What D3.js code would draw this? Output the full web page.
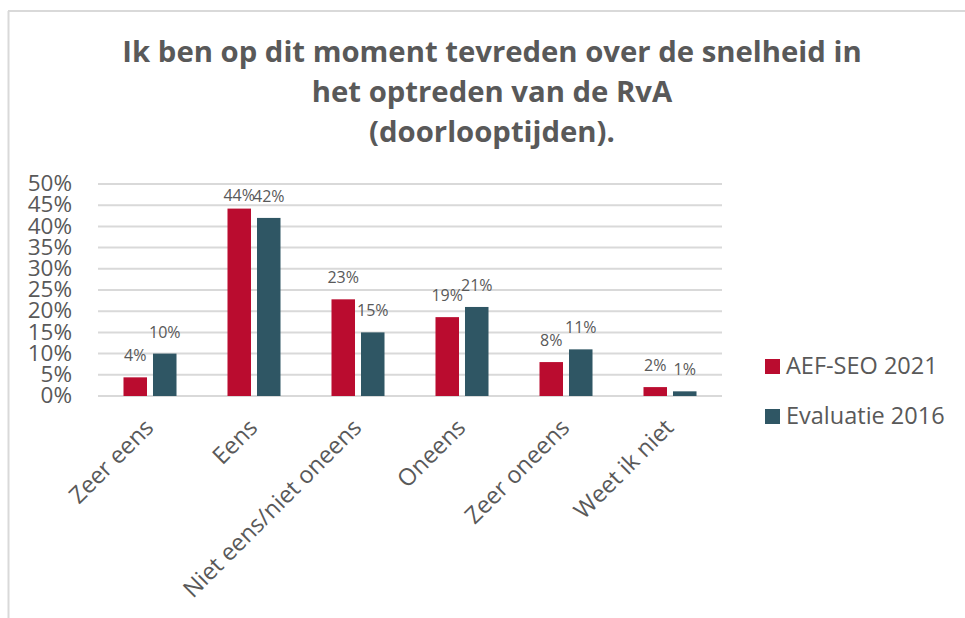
<!DOCTYPE html>
<html>
<head>
<meta charset="utf-8">
<script src="https://cdn.jsdelivr.net/npm/d3@7"></script>
<style>
  body { margin: 0; background: #fff; }
  svg { display: block; font-family: "Open Sans", "Noto Sans", sans-serif; }
</style>
</head>
<body>
<svg id="chart" width="965" height="618"></svg>
<script>
// data (percentages)
const categories = ["Zeer eens", "Eens", "Niet eens/niet oneens", "Oneens", "Zeer oneens", "Weet ik niet"];
const seriesNames = ["AEF-SEO 2021", "Evaluatie 2016"];
const aef2021 = [4.4, 44.2, 22.8, 18.6, 8.0, 2.1];
const eval2016 = [10.0, 42.0, 15.0, 21.0, 11.0, 1.1];
const yTicks = [0, 5, 10, 15, 20, 25, 30, 35, 40, 45, 50];
const titleLines = ["Ik ben op dit moment tevreden over de snelheid in", "het optreden van de RvA", "(doorlooptijden)."];

const colors = { "AEF-SEO 2021": "#ba0c2f", "Evaluatie 2016": "#2f5664" };
const textColor = "#595959";
const gridColor = "#d9d9d9";

const svg = d3.select("#chart");

// chart frame (only top + left edges visible)
svg.append("line").attr("x1", 8).attr("x2", 965).attr("y1", 11).attr("y2", 11)
    .attr("stroke", gridColor).attr("stroke-width", 2);
svg.append("line").attr("x1", 8.5).attr("x2", 8.5).attr("y1", 11).attr("y2", 618)
    .attr("stroke", gridColor).attr("stroke-width", 2);

// title
svg.append("g").selectAll("text")
    .data(titleLines)
    .join("text")
    .attr("x", 492)
    .attr("y", (d, i) => 62 + i * 40)
    .attr("text-anchor", "middle")
    .attr("font-size", 29.3)
    .attr("font-weight", "bold")
    .attr("fill", textColor)
    .text(d => d);

// scales
var x0 = d3.scaleBand().domain(categories).range([98, 722]);
var x1 = d3.scaleBand().domain(seriesNames).range([0, x0.bandwidth()])
    .paddingInner(0.203).paddingOuter(0.864);
var y = d3.scaleLinear().domain([0, 50]).range([396, 184]);

// gridlines
svg.append("g").selectAll("line")
    .data(yTicks)
    .join("line")
    .attr("x1", 98).attr("x2", 722)
    .attr("y1", d => y(d)).attr("y2", d => y(d))
    .attr("stroke", gridColor).attr("stroke-width", 2);

// y axis labels
const yAxis = svg.append("g")
    .attr("transform", "translate(72,0)")
    .call(d3.axisLeft(y).tickValues(yTicks).tickFormat(d => d + "%").tickSize(0).tickPadding(0));
yAxis.select(".domain").remove();
yAxis.selectAll("text")
    .attr("font-size", 22.5)
    .attr("font-family", "Open Sans")
    .attr("fill", textColor)
    .attr("dy", "0.3em");

// bars
const rows = categories.map((c, i) => ({
    cat: c,
    values: [
        { name: seriesNames[0], value: aef2021[i] },
        { name: seriesNames[1], value: eval2016[i] }
    ]
}));

const groups = svg.append("g").selectAll("g")
    .data(rows)
    .join("g")
    .attr("transform", d => "translate(" + x0(d.cat) + ",0)");

groups.selectAll("rect")
    .data(d => d.values)
    .join("rect")
    .attr("x", d => x1(d.name))
    .attr("width", x1.bandwidth())
    .attr("y", d => y(d.value))
    .attr("height", d => y(0) - y(d.value))
    .attr("fill", d => colors[d.name]);

// data labels, kept inside plot area like Excel does
groups.selectAll("text")
    .data(d => d.values)
    .join("text")
    .attr("x", d => x1(d.name) + x1.bandwidth() / 2)
    .attr("y", d => Math.max(y(d.value) - 16, y(50) + 17))
    .attr("text-anchor", "middle")
    .attr("font-size", 16)
    .attr("fill", textColor)
    .text(d => Math.round(d.value) + "%");

// category labels
svg.append("g").selectAll("text")
    .data(categories)
    .join("text")
    .attr("transform", d => "translate(" + (x0(d) + x0.bandwidth() / 2 + 5) + ",429) rotate(-45)")
    .attr("text-anchor", "end")
    .attr("font-size", 23.5)
    .attr("fill", textColor)
    .text(d => d);

// legend
const legend = svg.append("g").selectAll("g")
    .data(seriesNames)
    .join("g")
    .attr("transform", (d, i) => "translate(765," + (359 + i * 50) + ")");
legend.append("rect")
    .attr("width", 15).attr("height", 15)
    .attr("fill", d => colors[d]);
legend.append("text")
    .attr("x", 21).attr("y", 15)
    .attr("font-size", 23.5)
    .attr("fill", textColor)
    .text(d => d);
</script>
</body>
</html>
